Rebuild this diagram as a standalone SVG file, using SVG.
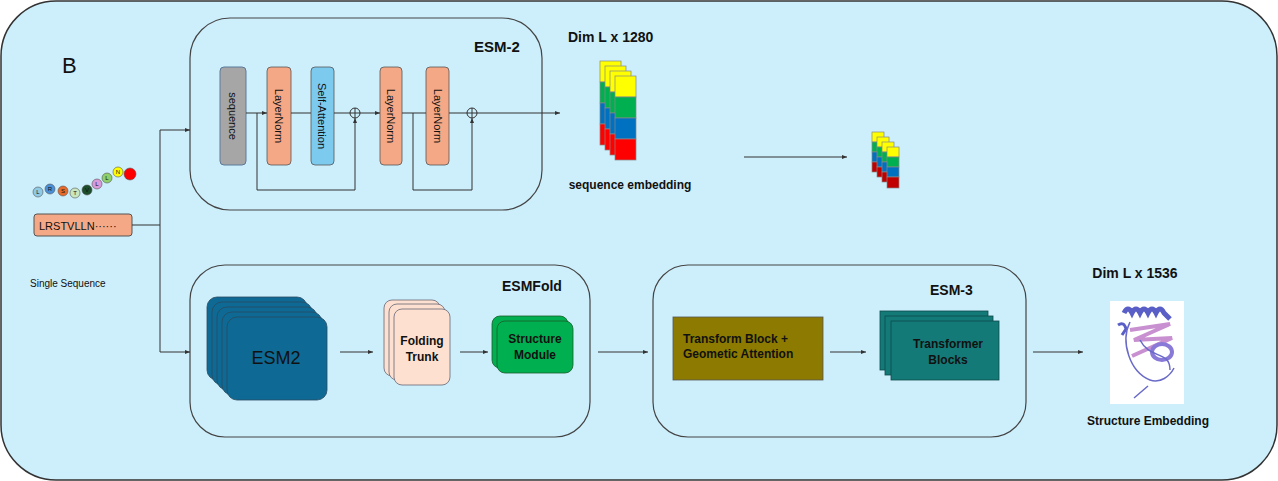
<svg xmlns="http://www.w3.org/2000/svg" width="1278" height="481" viewBox="0 0 1278 481">
<defs>
<marker id="ah" viewBox="0 0 10 10" refX="10" refY="5" markerWidth="5" markerHeight="5" orient="auto"><path d="M0,1 L10,5 L0,9 z" fill="#333"/></marker>
<style>
.t{font-family:"Liberation Sans",Arial,sans-serif;fill:#111}
.b{font-weight:bold}
.ln{stroke:#333;stroke-width:1;fill:none}
.ar{stroke:#333;stroke-width:1;fill:none;marker-end:url(#ah)}
.box{fill:#cdeefb;stroke:#444;stroke-width:1.2}
.ly{fill:#f4a886;stroke:#555;stroke-width:0.8}
.e{stroke:#888;stroke-width:0.7}
</style>
</defs>
<rect x="1" y="1" width="1276" height="479" rx="55" fill="#cdeefb" stroke="#333" stroke-width="1.5"/>
<text class="t" x="62" y="73" font-size="22">B</text>

<g id="input">
<g font-size="6" font-family="Liberation Sans,sans-serif" text-anchor="middle" stroke="#555" stroke-width="0.6">
<circle cx="38" cy="192" r="5" fill="#8ecae6"/><circle cx="50" cy="189" r="5" fill="#4a90d9"/><circle cx="63" cy="191" r="5" fill="#e86a2a"/><circle cx="75" cy="193" r="5" fill="#c8e6c0"/><circle cx="87" cy="190" r="5" fill="#1b4d2a"/><circle cx="97" cy="184" r="5" fill="#d89ad8"/><circle cx="107" cy="178" r="5" fill="#8fd06a"/><circle cx="118" cy="172" r="5" fill="#ffff00"/><circle cx="130" cy="174" r="6" fill="#ff0000"/>
</g>
<g class="t" font-size="6" text-anchor="middle"><text x="38" y="194">L</text><text x="50" y="191">R</text><text x="63" y="193">S</text><text x="75" y="195">T</text><text x="87" y="192">V</text><text x="97" y="186">L</text><text x="107" y="180">L</text><text x="118" y="174">N</text></g>
<rect x="34" y="214" width="98" height="22" rx="3" fill="#f4a886" stroke="#555"/>
<text class="t" x="39" y="230" font-size="11">LRSTVLLN······</text>
<text class="t" x="30" y="287" font-size="10">Single Sequence</text>
</g>

<g id="esm2">
<rect class="box" x="190" y="18" width="352" height="192" rx="40"/>
<text class="t b" x="474" y="52" font-size="15">ESM-2</text>
<rect x="220" y="67" width="26" height="98" rx="4" fill="#a6a6a6" stroke="#5b7a99"/>
<rect class="ly" x="267" y="67" width="24" height="98" rx="4"/>
<rect x="311" y="67" width="23" height="98" rx="4" fill="#7ccbee" stroke="#555" stroke-width="0.8"/>
<rect class="ly" x="380" y="67" width="22" height="98" rx="4"/>
<rect class="ly" x="426" y="67" width="23" height="98" rx="4"/>
<g class="t" font-size="11" text-anchor="middle">
<text transform="translate(229,116) rotate(90)">sequence</text>
<text transform="translate(275,116) rotate(90)">LayerNorm</text>
<text transform="translate(318,116) rotate(90)">Self-Attention</text>
<text transform="translate(387,116) rotate(90)">LayerNorm</text>
<text transform="translate(434,116) rotate(90)">LayerNorm</text>
</g>
</g>

<g id="emb1">
<g class="e"><rect x="600" y="61" width="21" height="21" fill="#ffff00"/><rect x="600" y="82" width="21" height="21" fill="#00b050"/><rect x="600" y="103" width="21" height="21" fill="#0070c0"/><rect x="600" y="124" width="21" height="21" fill="#ff0000"/></g>
<g class="e"><rect x="605" y="66" width="21" height="21" fill="#ffff00"/><rect x="605" y="87" width="21" height="21" fill="#00b050"/><rect x="605" y="108" width="21" height="21" fill="#0070c0"/><rect x="605" y="129" width="21" height="21" fill="#ff0000"/></g>
<g class="e"><rect x="610" y="71" width="21" height="21" fill="#ffff00"/><rect x="610" y="92" width="21" height="21" fill="#00b050"/><rect x="610" y="113" width="21" height="21" fill="#0070c0"/><rect x="610" y="134" width="21" height="21" fill="#ff0000"/></g>
<g class="e"><rect x="615" y="76" width="21" height="21" fill="#ffff00"/><rect x="615" y="97" width="21" height="21" fill="#00b050"/><rect x="615" y="118" width="21" height="21" fill="#0070c0"/><rect x="615" y="139" width="21" height="21" fill="#ff0000"/></g>
<text class="t b" x="568" y="42" font-size="14">Dim L x 1280</text>
<text class="t b" x="630" y="189" font-size="12" text-anchor="middle">sequence embedding</text>
</g>

<g id="emb2">
<g class="e"><rect x="872" y="132" width="12" height="10" fill="#ffff00"/><rect x="872" y="142" width="12" height="10" fill="#00b050"/><rect x="872" y="152" width="12" height="10" fill="#0070c0"/><rect x="872" y="162" width="12" height="10" fill="#c00000"/></g>
<g class="e"><rect x="877" y="137" width="12" height="10" fill="#ffff00"/><rect x="877" y="147" width="12" height="10" fill="#00b050"/><rect x="877" y="157" width="12" height="10" fill="#0070c0"/><rect x="877" y="167" width="12" height="10" fill="#c00000"/></g>
<g class="e"><rect x="882" y="142" width="12" height="10" fill="#ffff00"/><rect x="882" y="152" width="12" height="10" fill="#00b050"/><rect x="882" y="162" width="12" height="10" fill="#0070c0"/><rect x="882" y="172" width="12" height="10" fill="#c00000"/></g>
<g class="e"><rect x="887" y="147" width="12" height="10" fill="#ffff00"/><rect x="887" y="157" width="12" height="10" fill="#00b050"/><rect x="887" y="167" width="12" height="10" fill="#0070c0"/><rect x="887" y="177" width="12" height="11" fill="#c00000"/></g>
</g>

<g id="esmfold">
<rect class="box" x="190" y="265" width="400" height="172" rx="35"/>
<text class="t b" x="502" y="291" font-size="14">ESMFold</text>
<g fill="#0e6a94" stroke="#2a4a60" stroke-width="0.8">
<rect x="207" y="297" width="100" height="83" rx="10"/><rect x="212" y="302" width="100" height="83" rx="10"/><rect x="217" y="307" width="100" height="83" rx="10"/><rect x="222" y="312" width="100" height="83" rx="10"/><rect x="227" y="317" width="100" height="83" rx="10"/>
</g>
<text class="t" x="276" y="364" font-size="18" text-anchor="middle">ESM2</text>
<g fill="#fde0cf" stroke="#667" stroke-width="0.8">
<rect x="384" y="300" width="56" height="76" rx="8"/><rect x="389" y="304" width="56" height="76" rx="8"/><rect x="394" y="309" width="56" height="76" rx="8"/>
</g>
<text class="t b" x="422" y="345" font-size="12" text-anchor="middle">Folding</text>
<text class="t b" x="422" y="361" font-size="12" text-anchor="middle">Trunk</text>
<g fill="#00b050" stroke="#1a5a2a" stroke-width="0.8">
<rect x="492" y="316" width="76" height="52" rx="8"/><rect x="497" y="321" width="76" height="52" rx="8"/>
</g>
<text class="t b" x="535" y="343" font-size="12" text-anchor="middle">Structure</text>
<text class="t b" x="535" y="359" font-size="12" text-anchor="middle">Module</text>
</g>

<g id="esm3">
<rect class="box" x="653" y="265" width="373" height="172" rx="35"/>
<text class="t b" x="930" y="295" font-size="14">ESM-3</text>
<rect x="673" y="317" width="150" height="63" fill="#8c7b00" stroke="#555" stroke-width="0.8"/>
<text class="t b" x="683" y="343" font-size="12">Transform Block +</text>
<text class="t b" x="683" y="358" font-size="12">Geometic Attention</text>
<g fill="#137a78" stroke="#0d4a4a" stroke-width="0.8">
<rect x="880" y="311" width="108" height="59"/><rect x="885" y="316" width="108" height="59"/><rect x="891" y="321" width="108" height="59"/>
</g>
<text class="t b" x="948" y="348" font-size="12" text-anchor="middle">Transformer</text>
<text class="t b" x="948" y="364" font-size="12" text-anchor="middle">Blocks</text>
</g>

<g id="structure">
<text class="t b" x="1135" y="278" font-size="14" text-anchor="middle">Dim L x 1536</text>
<rect x="1110" y="301" width="74" height="103" fill="#fff"/>
<path d="M1124,313 q4,-8 8,0 q4,-8 8,0 q4,-8 8,0 q4,-8 8,0 q4,-8 8,0 l6,6" fill="none" stroke="#5a5fc8" stroke-width="5"/>
<path d="M1118,325 q6,-4 8,4 l-4,6" fill="none" stroke="#5a5fc8" stroke-width="3"/>
<path d="M1130,330 l40,-6 l-36,16 l38,-2 l-40,18" fill="none" stroke="#c890d0" stroke-width="4"/>
<ellipse cx="1162" cy="352" rx="10" ry="8" fill="none" stroke="#8a7ad8" stroke-width="4"/>
<path d="M1130,322 c-10,20 0,50 20,58 c10,4 20,-4 24,-12 M1148,386 l-14,12 M1140,340 c10,20 30,10 30,30" fill="none" stroke="#6a6ac8" stroke-width="1.5"/>
<text class="t b" x="1148" y="425" font-size="12" text-anchor="middle">Structure Embedding</text>
</g>

<g id="connectors">
<path class="ln" d="M132,225 H160 M160,130 V352"/>
<path class="ar" d="M160,130 H190"/>
<path class="ar" d="M160,352 H190"/>
<path class="ar" d="M246,113 H267"/>
<path class="ln" d="M291,113 H311 M334,113 H350"/>
<circle cx="355" cy="113" r="5" fill="none" stroke="#333"/><path class="ln" d="M350,113 H360 M355,108 V118"/>
<path class="ln" d="M257,113 V190 H355"/><path class="ar" d="M355,190 V118"/>
<path class="ar" d="M360,113 H380"/>
<path class="ln" d="M402,113 H426 M449,113 H467"/>
<circle cx="472" cy="113" r="5" fill="none" stroke="#333"/><path class="ln" d="M467,113 H477 M472,108 V118"/>
<path class="ln" d="M413,113 V190 H472"/><path class="ar" d="M472,190 V118"/>
<path class="ar" d="M477,113 H560"/>
<path class="ar" d="M744,157 H847" stroke-width="1.3"/>
<path class="ar" d="M340,352 H373"/>
<path class="ar" d="M460,352 H488"/>
<path class="ar" d="M598,352 H648"/>
<path class="ar" d="M830,352 H866"/>
<path class="ar" d="M1033,352 H1083"/>
</g>
</svg>
